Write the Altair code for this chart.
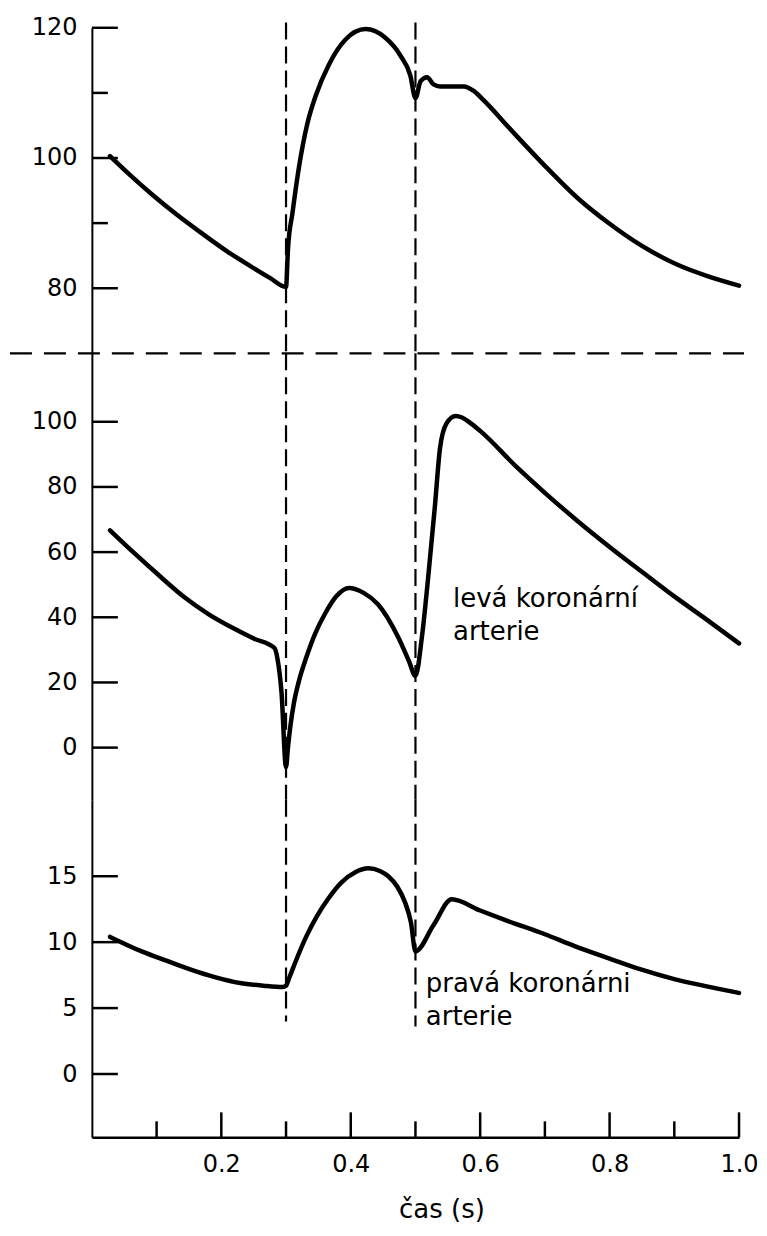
import altair as alt
import pandas as pd

# ---------------- data ----------------
# aortic pressure (top panel, mmHg)
aorta_t = [0.028, 0.06, 0.093, 0.13, 0.169, 0.21, 0.245, 0.275, 0.3, 0.303, 0.31, 0.32,
           0.333, 0.346, 0.366, 0.392, 0.423, 0.453, 0.477, 0.492, 0.5, 0.508, 0.518,
           0.528, 0.538, 0.575, 0.59, 0.606, 0.645, 0.7, 0.75, 0.8, 0.85, 0.905, 0.95, 1.0]
aorta_v = [100.3, 97.3, 94.4, 91.4, 88.5, 85.6, 83.4, 81.6, 80.2, 86.0, 91.6, 98.6,
           105.3, 109.6, 114.3, 118.2, 119.8, 118.5, 115.7, 112.7, 109.2, 111.8, 112.4,
           111.3, 111.0, 111.0, 110.3, 108.8, 104.6, 98.8, 93.9, 89.9, 86.5, 83.6, 81.9, 80.4]

# left coronary artery flow (middle panel)
left_t = [0.028, 0.066, 0.1, 0.142, 0.18, 0.218, 0.25, 0.282, 0.287, 0.293, 0.3, 0.303,
          0.307, 0.312, 0.32, 0.331, 0.345, 0.36, 0.378, 0.397, 0.42, 0.442, 0.473, 0.49,
          0.5, 0.51, 0.52, 0.53, 0.538, 0.548, 0.562, 0.572, 0.585, 0.6, 0.657, 0.7,
          0.749, 0.8, 0.853, 0.9, 0.95, 1.0]
left_v = [66.7, 59.6, 53.5, 46.3, 41.0, 36.7, 33.5, 30.6, 27.0, 17.0, -6.0, 0.0,
          7.0, 13.5, 20.5, 27.5, 35.0, 41.0, 46.5, 49.0, 47.5, 44.0, 34.0, 26.5,
          22.0, 34.0, 53.0, 74.0, 92.0, 99.5, 101.8, 101.3, 99.6, 97.2, 86.0, 78.2,
          69.8, 61.6, 53.5, 46.4, 39.3, 32.0]

# right coronary artery flow (bottom panel)
right_t = [0.028, 0.077, 0.115, 0.154, 0.19, 0.229, 0.265, 0.295, 0.3, 0.305, 0.317,
           0.331, 0.348, 0.366, 0.385, 0.407, 0.427, 0.445, 0.458, 0.472, 0.484, 0.493,
           0.5, 0.528, 0.556, 0.6, 0.643, 0.7, 0.746, 0.8, 0.847, 0.9, 0.95, 1.0]
right_v = [10.4, 9.3, 8.6, 7.9, 7.35, 6.9, 6.7, 6.6, 6.7, 7.3, 8.8,
           10.4, 12.0, 13.35, 14.5, 15.3, 15.6, 15.4, 15.0, 14.2, 13.0, 11.5,
           9.3, 11.3, 13.25, 12.4, 11.6, 10.6, 9.7, 8.75, 7.95, 7.2, 6.65, 6.15]

# axis ticks / labels
top_major = [80, 100, 120]
top_minor = [90, 110]
mid_major = [0, 20, 40, 60, 80, 100]
bot_major = [0, 5, 10, 15]
x_major = [0.2, 0.4, 0.6, 0.8, 1.0]
x_minor = [0.1, 0.3, 0.5, 0.7, 0.9]

# scale domains of the three panels
top_domain = [70, 120]
mid_domain = [-16, 121]
bot_domain = [-4.8, 20.8]

# vertical event lines (time) and where they stop
event_t = [0.3, 0.5]
event_top_start = [120.8, 120.8]
event_bot_end = [3.98, 3.6]
separator_v = [70]

# annotations
left_label = ["levá koronární", "arterie"]
left_label_t = [0.558, 0.558]
left_label_v = [43.2, 33.0]
right_label = ["pravá koronárni", "arterie"]
right_label_t = [0.516, 0.516]
right_label_v = [6.25, 3.68]

# ---------------- styling ----------------
FONT = "DejaVu Sans"
W = 648
H_TOP, H_MID, H_BOT = 326, 447, 338
LW = 4.5

xs = alt.Scale(domain=[0, 1], nice=False, zero=False)


def y_axis(vals):
    return alt.Axis(values=vals, ticks=False, grid=False, domainColor="black",
                    domainWidth=2, labelFont=FONT, labelFontSize=24,
                    labelColor="black", labelPadding=15, labelFlush=False,
                    title=None)


x_axis_bottom = alt.Axis(values=x_major, format=".1f", ticks=False, grid=False,
                         domainColor="black", domainWidth=2.5, labelFont=FONT,
                         labelFontSize=24, labelColor="black", labelPadding=15,
                         labelFlush=False, title="čas (s)", titleFont=FONT,
                         titleFontSize=26, titleFontWeight="normal",
                         titleColor="black", titleX=350, titleY=80,
                         titleBaseline="alphabetic")


def panel(t, v, domain, major, minor, height, xaxis, labels=None,
          ev_from=None, ev_to=None, bottom_ticks=False, separator=False):
    ys = alt.Scale(domain=domain, nice=False, zero=False)
    yax = y_axis(major)
    X = lambda: alt.X("t:Q", scale=xs, axis=xaxis)
    Y = lambda: alt.Y("v:Q", scale=ys, axis=yax)

    df = pd.DataFrame({"t": t, "v": v})
    layers = [
        alt.Chart(df).mark_line(color="black", strokeWidth=LW, interpolate="monotone",
                                strokeCap="round", strokeJoin="round")
        .encode(x=X(), y=Y()),
        # inward y ticks
        alt.Chart(pd.DataFrame({"v": major})).mark_rule(color="black", strokeWidth=2.5)
        .encode(y=Y(), x=alt.value(0), x2=alt.value(26)),
    ]
    if minor:
        layers.append(
            alt.Chart(pd.DataFrame({"v": minor})).mark_rule(color="black", strokeWidth=2.5)
            .encode(y=Y(), x=alt.value(0), x2=alt.value(16))
        )
    # vertical dashed event lines
    ev = pd.DataFrame({"t": event_t,
                       "v": ev_from if ev_from else [domain[1]] * len(event_t),
                       "v2": ev_to if ev_to else [domain[0]] * len(event_t)})
    layers.append(
        alt.Chart(ev).mark_rule(color="black", strokeWidth=2.2, strokeDash=[17, 7])
        .encode(x=X(), y=Y(), y2="v2:Q")
    )
    if separator:
        layers.append(
            alt.Chart(pd.DataFrame({"v": separator_v}))
            .mark_rule(color="black", strokeWidth=2.4, strokeDash=[22, 12])
            .encode(y=Y(), x=alt.value(-82), x2=alt.value(653))
        )
    if bottom_ticks:
        layers.append(
            alt.Chart(pd.DataFrame({"t": x_major})).mark_rule(color="black", strokeWidth=2.5)
            .encode(x=X(), y=alt.value(height), y2=alt.value(height - 25))
        )
        layers.append(
            alt.Chart(pd.DataFrame({"t": x_minor})).mark_rule(color="black", strokeWidth=2.5)
            .encode(x=X(), y=alt.value(height), y2=alt.value(height - 16))
        )
    if labels:
        txt, lt, lv = labels
        layers.append(
            alt.Chart(pd.DataFrame({"t": lt, "v": lv, "label": txt}))
            .mark_text(align="left", baseline="alphabetic", font=FONT, fontSize=26,
                       color="black")
            .encode(x=X(), y=Y(), text="label:N")
        )
    return alt.layer(*layers).properties(width=W, height=height)


top = panel(aorta_t, aorta_v, top_domain, top_major, top_minor, H_TOP, None,
            ev_from=event_top_start, separator=True)
mid = panel(left_t, left_v, mid_domain, mid_major, None, H_MID, None,
            labels=(left_label, left_label_t, left_label_v))
bot = panel(right_t, right_v, bot_domain, bot_major, None, H_BOT, x_axis_bottom,
            labels=(right_label, right_label_t, right_label_v),
            ev_to=event_bot_end, bottom_ticks=True)

chart = (
    alt.vconcat(top, mid, bot, spacing=0, bounds="flush")
    .resolve_scale(y="independent")
    .properties(padding={"left": 0, "top": 7, "right": 0, "bottom": 0})
    .configure_view(strokeWidth=0, stroke="transparent")
)

chart.save("out.html", embed_options={"renderer": "svg", "actions": False})
